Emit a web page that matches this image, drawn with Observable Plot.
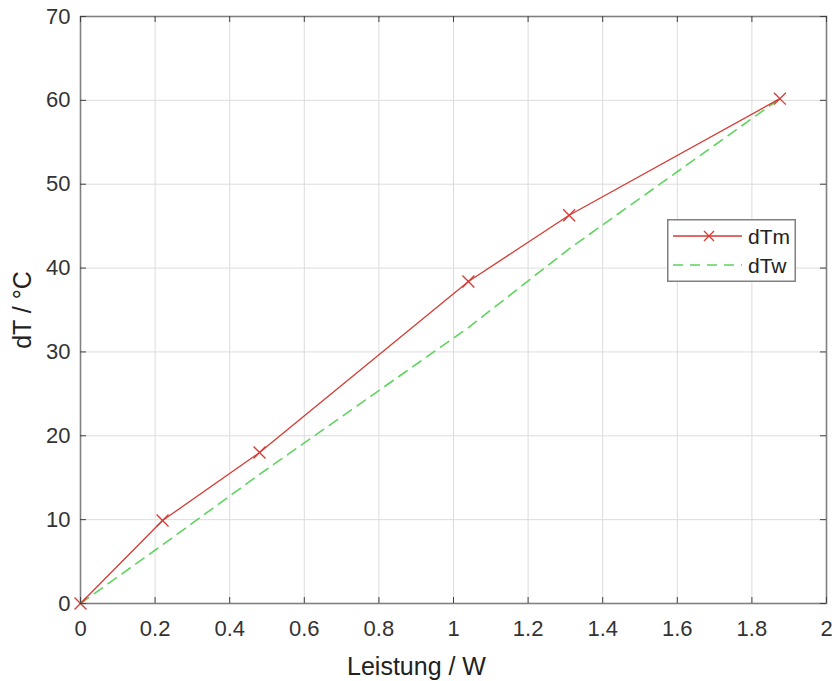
<!DOCTYPE html>
<html>
<head>
<meta charset="utf-8">
<script src="https://cdn.jsdelivr.net/npm/d3@7"></script>
<script src="https://cdn.jsdelivr.net/npm/@observablehq/plot@0.6"></script>
<style>
  html, body { margin: 0; padding: 0; background: white; }
  #wrap { position: relative; width: 832px; height: 681px; font-family: "Liberation Sans", Arial, sans-serif; }
  #legend { position: absolute; left: 667px; top: 219px; }
</style>
</head>
<body>
<div id="wrap"></div>
<script>
// ---- data ----
const xTicks = [0, 0.2, 0.4, 0.6, 0.8, 1, 1.2, 1.4, 1.6, 1.8, 2];
const yTicks = [0, 10, 20, 30, 40, 50, 60, 70];
const leistung = [0, 0.22, 0.48, 1.04, 1.31, 1.875];
const dTm = [0, 9.9, 18.0, 38.4, 46.3, 60.2];
const dTw = [0, 7.0, 15.4, 32.9, 42.3, 60.2];
const seriesNames = ["dTm", "dTw"];
const xLabel = "Leistung / W";
const yLabel = "dT / °C";

const red = "#d63a33";
const green = "#5ed45e";

const rows = leistung.map((p, i) => ({p, m: dTm[i], w: dTw[i]}));

const W = 832, H = 681, mL = 80, mR = 6, mT = 16, mB = 78;
const plotH = H - mT - mB;
const plotW = W - mL - mR;

const chart = Plot.plot({
  width: W,
  height: H,
  marginLeft: mL,
  marginRight: mR,
  marginTop: mT,
  marginBottom: mB,
  x: {domain: [0, 2]},
  y: {domain: [0, 70]},
  style: {fontFamily: "Liberation Sans, Arial, sans-serif", background: "white"},
  marks: [
    Plot.gridX(xTicks, {stroke: "#dcdcdc", strokeOpacity: 1}),
    Plot.gridY(yTicks, {stroke: "#dcdcdc", strokeOpacity: 1}),
    Plot.line(rows, {x: "p", y: "w", stroke: green, strokeWidth: 1.6, strokeDasharray: "10,7"}),
    Plot.line(rows, {x: "p", y: "m", stroke: red, strokeWidth: 1.3}),
    Plot.dot(rows, {x: "p", y: "m", symbol: "times", stroke: red, r: 5.5, strokeWidth: 1.3}),
    Plot.frame({stroke: "#808080", strokeWidth: 1.6}),
    Plot.tickX(xTicks, {x: d => d, insetTop: plotH - 6, stroke: "#404040"}),
    Plot.tickX(xTicks, {x: d => d, insetBottom: plotH - 6, stroke: "#404040"}),
    Plot.tickY(yTicks, {y: d => d, insetRight: plotW - 6, stroke: "#404040"}),
    Plot.tickY(yTicks, {y: d => d, insetLeft: plotW - 6, stroke: "#404040"}),
    Plot.axisX(xTicks, {tickSize: 0, tickPadding: 17, fontSize: 22, fill: "#333", label: null, tickFormat: d => String(d)}),
    Plot.axisY(yTicks, {tickSize: 0, tickPadding: 10, fontSize: 22, fill: "#333", label: null, tickFormat: d => String(d)})
  ]
});
document.getElementById("wrap").appendChild(chart);

// axis titles
const svg = d3.select(chart);
svg.append("text")
  .attr("x", 416.5).attr("y", 675)
  .attr("text-anchor", "middle")
  .attr("font-size", 25).attr("fill", "#222")
  .attr("font-family", "Liberation Sans, Arial, sans-serif")
  .text(xLabel);
svg.append("text")
  .attr("transform", "translate(31,310) rotate(-90)")
  .attr("text-anchor", "middle")
  .attr("font-size", 25).attr("fill", "#222")
  .attr("font-family", "Liberation Sans, Arial, sans-serif")
  .text(yLabel);

// ---- legend ----
const lw = 129, lh = 63;
const leg = d3.create("svg").attr("id", "legend").attr("width", lw).attr("height", lh)
  .style("font-family", "Liberation Sans, Arial, sans-serif");
leg.append("rect").attr("x", 0.75).attr("y", 0.75).attr("width", lw - 1.5).attr("height", lh - 1.5)
  .attr("fill", "white").attr("stroke", "#808080").attr("stroke-width", 1.5);
const entries = [
  {name: seriesNames[0], color: red, dash: null, marker: true, y: 17},
  {name: seriesNames[1], color: green, dash: "10,7", marker: false, y: 46}
];
for (const e of entries) {
  leg.append("line").attr("x1", 6).attr("x2", 75).attr("y1", e.y).attr("y2", e.y)
    .attr("stroke", e.color).attr("stroke-width", e.marker ? 1.3 : 1.6)
    .attr("stroke-dasharray", e.dash);
  if (e.marker) {
    leg.append("path").attr("d", "M-5,-5L5,5M-5,5L5,-5")
      .attr("transform", `translate(42,${e.y})`).attr("stroke", e.color).attr("stroke-width", 1.3);
  }
  leg.append("text").attr("x", 81).attr("y", e.y + 7.5).attr("font-size", 21).attr("fill", "#222").text(e.name);
}
document.getElementById("wrap").appendChild(leg.node());
</script>
</body>
</html>
